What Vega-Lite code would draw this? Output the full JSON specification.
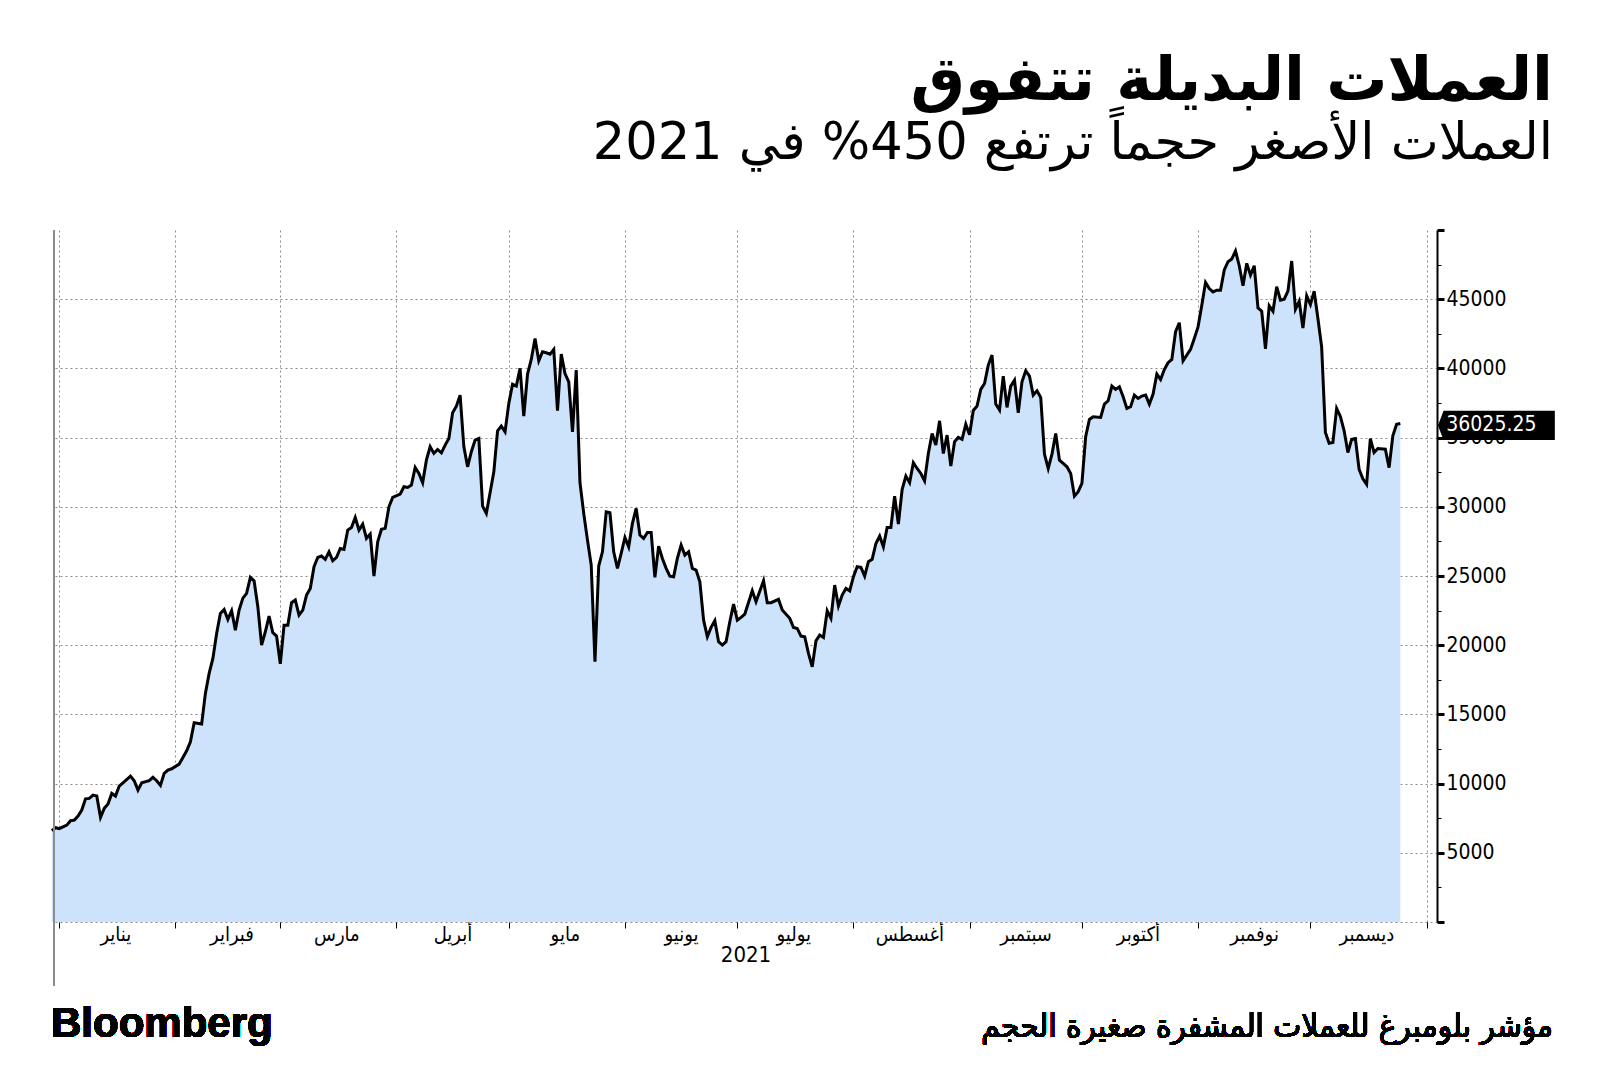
{
  "$schema": "https://vega.github.io/schema/vega-lite/v6.json",
  "width": 1383,
  "height": 692,
  "autosize": {"type": "none"},
  "padding": {"left": 54, "top": 230, "right": 163, "bottom": 152},
  "background": "white",
  "config": {"view": {"stroke": null}},
  "title": {
    "text": "العملات البديلة تتفوق",
    "subtitle": "‫العملات الأصغر حجماً ترتفع 450% في 2021‬",
    "anchor": "end",
    "frame": "group",
    "orient": "top",
    "dx": 116,
    "offset": 49,
    "font": "DejaVu Sans",
    "fontSize": 61,
    "fontWeight": "bold",
    "color": "black",
    "subtitleFont": "DejaVu Sans",
    "subtitleFontSize": 51,
    "subtitleColor": "black",
    "subtitlePadding": 6
  },
  "datasets": {
    "series": [
      {"date": "2020-12-30", "value": 6600},
      {"date": "2020-12-31", "value": 6810},
      {"date": "2021-01-01", "value": 6740},
      {"date": "2021-01-03", "value": 7000},
      {"date": "2021-01-04", "value": 7320},
      {"date": "2021-01-05", "value": 7360},
      {"date": "2021-01-06", "value": 7650},
      {"date": "2021-01-07", "value": 8090},
      {"date": "2021-01-08", "value": 8900},
      {"date": "2021-01-09", "value": 8930},
      {"date": "2021-01-10", "value": 9170},
      {"date": "2021-01-11", "value": 9100},
      {"date": "2021-01-12", "value": 7560},
      {"date": "2021-01-13", "value": 8210},
      {"date": "2021-01-14", "value": 8520},
      {"date": "2021-01-15", "value": 9290},
      {"date": "2021-01-16", "value": 9100},
      {"date": "2021-01-17", "value": 9820},
      {"date": "2021-01-18", "value": 10060},
      {"date": "2021-01-20", "value": 10540},
      {"date": "2021-01-21", "value": 10210},
      {"date": "2021-01-22", "value": 9530},
      {"date": "2021-01-23", "value": 10060},
      {"date": "2021-01-25", "value": 10210},
      {"date": "2021-01-26", "value": 10450},
      {"date": "2021-01-27", "value": 10210},
      {"date": "2021-01-28", "value": 9870},
      {"date": "2021-01-29", "value": 10740},
      {"date": "2021-01-30", "value": 10980},
      {"date": "2021-01-31", "value": 11070},
      {"date": "2021-02-02", "value": 11410},
      {"date": "2021-02-03", "value": 11890},
      {"date": "2021-02-04", "value": 12370},
      {"date": "2021-02-05", "value": 13020},
      {"date": "2021-02-06", "value": 14400},
      {"date": "2021-02-08", "value": 14300},
      {"date": "2021-02-09", "value": 16520},
      {"date": "2021-02-10", "value": 17960},
      {"date": "2021-02-11", "value": 19040},
      {"date": "2021-02-12", "value": 20850},
      {"date": "2021-02-13", "value": 22290},
      {"date": "2021-02-14", "value": 22580},
      {"date": "2021-02-15", "value": 21860},
      {"date": "2021-02-16", "value": 22490},
      {"date": "2021-02-17", "value": 21090},
      {"date": "2021-02-18", "value": 22540},
      {"date": "2021-02-19", "value": 23400},
      {"date": "2021-02-20", "value": 23740},
      {"date": "2021-02-21", "value": 24900},
      {"date": "2021-02-22", "value": 24650},
      {"date": "2021-02-23", "value": 22780},
      {"date": "2021-02-24", "value": 20010},
      {"date": "2021-02-25", "value": 20970},
      {"date": "2021-02-26", "value": 22100},
      {"date": "2021-02-27", "value": 20900},
      {"date": "2021-02-28", "value": 20660},
      {"date": "2021-03-01", "value": 18660},
      {"date": "2021-03-02", "value": 21450},
      {"date": "2021-03-03", "value": 21450},
      {"date": "2021-03-04", "value": 23070},
      {"date": "2021-03-05", "value": 23260},
      {"date": "2021-03-06", "value": 22180},
      {"date": "2021-03-07", "value": 22540},
      {"date": "2021-03-08", "value": 23620},
      {"date": "2021-03-09", "value": 24100},
      {"date": "2021-03-10", "value": 25670},
      {"date": "2021-03-11", "value": 26340},
      {"date": "2021-03-12", "value": 26440},
      {"date": "2021-03-13", "value": 26200},
      {"date": "2021-03-14", "value": 26750},
      {"date": "2021-03-15", "value": 26100},
      {"date": "2021-03-16", "value": 26340},
      {"date": "2021-03-17", "value": 26990},
      {"date": "2021-03-18", "value": 26920},
      {"date": "2021-03-19", "value": 28320},
      {"date": "2021-03-20", "value": 28510},
      {"date": "2021-03-21", "value": 29230},
      {"date": "2021-03-22", "value": 28320},
      {"date": "2021-03-23", "value": 28750},
      {"date": "2021-03-24", "value": 27720},
      {"date": "2021-03-25", "value": 28030},
      {"date": "2021-03-26", "value": 24990},
      {"date": "2021-03-27", "value": 27470},
      {"date": "2021-03-28", "value": 28370},
      {"date": "2021-03-29", "value": 28440},
      {"date": "2021-03-30", "value": 30000},
      {"date": "2021-03-31", "value": 30680},
      {"date": "2021-04-02", "value": 30920},
      {"date": "2021-04-03", "value": 31450},
      {"date": "2021-04-04", "value": 31400},
      {"date": "2021-04-05", "value": 31570},
      {"date": "2021-04-06", "value": 32840},
      {"date": "2021-04-07", "value": 32410},
      {"date": "2021-04-08", "value": 31740},
      {"date": "2021-04-09", "value": 33370},
      {"date": "2021-04-10", "value": 34340},
      {"date": "2021-04-11", "value": 33860},
      {"date": "2021-04-12", "value": 34140},
      {"date": "2021-04-13", "value": 33900},
      {"date": "2021-04-14", "value": 34460},
      {"date": "2021-04-15", "value": 34940},
      {"date": "2021-04-16", "value": 36790},
      {"date": "2021-04-17", "value": 37270},
      {"date": "2021-04-18", "value": 38070},
      {"date": "2021-04-19", "value": 34340},
      {"date": "2021-04-20", "value": 32890},
      {"date": "2021-04-21", "value": 33980},
      {"date": "2021-04-22", "value": 34820},
      {"date": "2021-04-23", "value": 34940},
      {"date": "2021-04-24", "value": 30050},
      {"date": "2021-04-25", "value": 29520},
      {"date": "2021-04-26", "value": 31010},
      {"date": "2021-04-27", "value": 32530},
      {"date": "2021-04-28", "value": 35490},
      {"date": "2021-04-29", "value": 35830},
      {"date": "2021-04-30", "value": 35420},
      {"date": "2021-05-01", "value": 37470},
      {"date": "2021-05-02", "value": 38860},
      {"date": "2021-05-03", "value": 38720},
      {"date": "2021-05-04", "value": 40000},
      {"date": "2021-05-05", "value": 36550},
      {"date": "2021-05-06", "value": 39590},
      {"date": "2021-05-07", "value": 40650},
      {"date": "2021-05-08", "value": 42160},
      {"date": "2021-05-09", "value": 40550},
      {"date": "2021-05-10", "value": 41200},
      {"date": "2021-05-11", "value": 41130},
      {"date": "2021-05-12", "value": 41030},
      {"date": "2021-05-13", "value": 41370},
      {"date": "2021-05-14", "value": 36940},
      {"date": "2021-05-15", "value": 41030},
      {"date": "2021-05-16", "value": 39630},
      {"date": "2021-05-17", "value": 39030},
      {"date": "2021-05-18", "value": 35420},
      {"date": "2021-05-19", "value": 39880},
      {"date": "2021-05-20", "value": 31740},
      {"date": "2021-05-21", "value": 29520},
      {"date": "2021-05-22", "value": 27590},
      {"date": "2021-05-23", "value": 25790},
      {"date": "2021-05-24", "value": 18810},
      {"date": "2021-05-25", "value": 25720},
      {"date": "2021-05-26", "value": 26750},
      {"date": "2021-05-27", "value": 29640},
      {"date": "2021-05-28", "value": 29570},
      {"date": "2021-05-29", "value": 26750},
      {"date": "2021-05-30", "value": 25550},
      {"date": "2021-05-31", "value": 26630},
      {"date": "2021-06-01", "value": 27790},
      {"date": "2021-06-02", "value": 27110},
      {"date": "2021-06-03", "value": 28800},
      {"date": "2021-06-04", "value": 29880},
      {"date": "2021-06-05", "value": 27960},
      {"date": "2021-06-06", "value": 27720},
      {"date": "2021-06-07", "value": 28150},
      {"date": "2021-06-08", "value": 28150},
      {"date": "2021-06-09", "value": 24900},
      {"date": "2021-06-10", "value": 27160},
      {"date": "2021-06-11", "value": 26270},
      {"date": "2021-06-12", "value": 25550},
      {"date": "2021-06-13", "value": 24990},
      {"date": "2021-06-14", "value": 24950},
      {"date": "2021-06-15", "value": 26270},
      {"date": "2021-06-16", "value": 27230},
      {"date": "2021-06-17", "value": 26510},
      {"date": "2021-06-18", "value": 26750},
      {"date": "2021-06-19", "value": 25550},
      {"date": "2021-06-20", "value": 25430},
      {"date": "2021-06-21", "value": 24580},
      {"date": "2021-06-22", "value": 21810},
      {"date": "2021-06-23", "value": 20610},
      {"date": "2021-06-24", "value": 21290},
      {"date": "2021-06-25", "value": 21770},
      {"date": "2021-06-26", "value": 20250},
      {"date": "2021-06-27", "value": 20010},
      {"date": "2021-06-28", "value": 20250},
      {"date": "2021-06-29", "value": 21690},
      {"date": "2021-06-30", "value": 22970},
      {"date": "2021-07-01", "value": 21810},
      {"date": "2021-07-02", "value": 22010},
      {"date": "2021-07-03", "value": 22250},
      {"date": "2021-07-05", "value": 23930},
      {"date": "2021-07-06", "value": 23140},
      {"date": "2021-07-08", "value": 24660},
      {"date": "2021-07-09", "value": 23070},
      {"date": "2021-07-10", "value": 23070},
      {"date": "2021-07-12", "value": 23310},
      {"date": "2021-07-13", "value": 22540},
      {"date": "2021-07-15", "value": 21940},
      {"date": "2021-07-16", "value": 21280},
      {"date": "2021-07-17", "value": 21210},
      {"date": "2021-07-18", "value": 20660},
      {"date": "2021-07-19", "value": 20610},
      {"date": "2021-07-20", "value": 19410},
      {"date": "2021-07-21", "value": 18440},
      {"date": "2021-07-22", "value": 20320},
      {"date": "2021-07-23", "value": 20730},
      {"date": "2021-07-24", "value": 20560},
      {"date": "2021-07-25", "value": 22490},
      {"date": "2021-07-26", "value": 21940},
      {"date": "2021-07-27", "value": 24340},
      {"date": "2021-07-28", "value": 22830},
      {"date": "2021-07-29", "value": 23620},
      {"date": "2021-07-30", "value": 24100},
      {"date": "2021-07-31", "value": 23930},
      {"date": "2021-08-01", "value": 24950},
      {"date": "2021-08-02", "value": 25670},
      {"date": "2021-08-03", "value": 25620},
      {"date": "2021-08-04", "value": 24990},
      {"date": "2021-08-05", "value": 26030},
      {"date": "2021-08-06", "value": 26200},
      {"date": "2021-08-07", "value": 27350},
      {"date": "2021-08-08", "value": 27880},
      {"date": "2021-08-09", "value": 27110},
      {"date": "2021-08-10", "value": 28510},
      {"date": "2021-08-11", "value": 28510},
      {"date": "2021-08-12", "value": 30770},
      {"date": "2021-08-13", "value": 28750},
      {"date": "2021-08-14", "value": 31250},
      {"date": "2021-08-15", "value": 32220},
      {"date": "2021-08-16", "value": 31740},
      {"date": "2021-08-17", "value": 33180},
      {"date": "2021-08-18", "value": 32770},
      {"date": "2021-08-19", "value": 32410},
      {"date": "2021-08-20", "value": 31880},
      {"date": "2021-08-21", "value": 33850},
      {"date": "2021-08-22", "value": 35300},
      {"date": "2021-08-23", "value": 34460},
      {"date": "2021-08-24", "value": 36210},
      {"date": "2021-08-25", "value": 33850},
      {"date": "2021-08-26", "value": 35180},
      {"date": "2021-08-27", "value": 32940},
      {"date": "2021-08-28", "value": 34700},
      {"date": "2021-08-29", "value": 35010},
      {"date": "2021-08-30", "value": 34870},
      {"date": "2021-08-31", "value": 35970},
      {"date": "2021-09-01", "value": 35200},
      {"date": "2021-09-02", "value": 36960},
      {"date": "2021-09-03", "value": 37280},
      {"date": "2021-09-04", "value": 38480},
      {"date": "2021-09-05", "value": 38910},
      {"date": "2021-09-06", "value": 40240},
      {"date": "2021-09-07", "value": 40960},
      {"date": "2021-09-08", "value": 37420},
      {"date": "2021-09-09", "value": 36990},
      {"date": "2021-09-10", "value": 39440},
      {"date": "2021-09-11", "value": 37180},
      {"date": "2021-09-12", "value": 38720},
      {"date": "2021-09-13", "value": 39150},
      {"date": "2021-09-14", "value": 36790},
      {"date": "2021-09-15", "value": 39030},
      {"date": "2021-09-16", "value": 39830},
      {"date": "2021-09-17", "value": 39440},
      {"date": "2021-09-18", "value": 38070},
      {"date": "2021-09-19", "value": 38380},
      {"date": "2021-09-20", "value": 37900},
      {"date": "2021-09-21", "value": 33810},
      {"date": "2021-09-22", "value": 32770},
      {"date": "2021-09-23", "value": 33810},
      {"date": "2021-09-24", "value": 35300},
      {"date": "2021-09-25", "value": 33370},
      {"date": "2021-09-26", "value": 33130},
      {"date": "2021-09-27", "value": 32890},
      {"date": "2021-09-28", "value": 32410},
      {"date": "2021-09-29", "value": 30770},
      {"date": "2021-09-30", "value": 31090},
      {"date": "2021-10-01", "value": 31690},
      {"date": "2021-10-02", "value": 35060},
      {"date": "2021-10-03", "value": 36310},
      {"date": "2021-10-04", "value": 36500},
      {"date": "2021-10-06", "value": 36460},
      {"date": "2021-10-07", "value": 37420},
      {"date": "2021-10-08", "value": 37660},
      {"date": "2021-10-09", "value": 38720},
      {"date": "2021-10-10", "value": 38480},
      {"date": "2021-10-11", "value": 38670},
      {"date": "2021-10-12", "value": 37950},
      {"date": "2021-10-13", "value": 37110},
      {"date": "2021-10-14", "value": 37230},
      {"date": "2021-10-15", "value": 38070},
      {"date": "2021-10-16", "value": 37830},
      {"date": "2021-10-17", "value": 38000},
      {"date": "2021-10-18", "value": 38070},
      {"date": "2021-10-19", "value": 37420},
      {"date": "2021-10-20", "value": 38140},
      {"date": "2021-10-21", "value": 39590},
      {"date": "2021-10-22", "value": 39200},
      {"date": "2021-10-23", "value": 39920},
      {"date": "2021-10-24", "value": 40410},
      {"date": "2021-10-25", "value": 40650},
      {"date": "2021-10-26", "value": 42650},
      {"date": "2021-10-27", "value": 43300},
      {"date": "2021-10-28", "value": 40550},
      {"date": "2021-10-30", "value": 41370},
      {"date": "2021-10-31", "value": 42160},
      {"date": "2021-11-01", "value": 43000},
      {"date": "2021-11-02", "value": 44560},
      {"date": "2021-11-03", "value": 46210},
      {"date": "2021-11-04", "value": 45770},
      {"date": "2021-11-05", "value": 45530},
      {"date": "2021-11-06", "value": 45650},
      {"date": "2021-11-07", "value": 45650},
      {"date": "2021-11-08", "value": 47110},
      {"date": "2021-11-09", "value": 47710},
      {"date": "2021-11-10", "value": 47900},
      {"date": "2021-11-11", "value": 48480},
      {"date": "2021-11-12", "value": 47420},
      {"date": "2021-11-13", "value": 45970},
      {"date": "2021-11-14", "value": 47590},
      {"date": "2021-11-15", "value": 46740},
      {"date": "2021-11-16", "value": 47420},
      {"date": "2021-11-17", "value": 44370},
      {"date": "2021-11-18", "value": 44130},
      {"date": "2021-11-19", "value": 41420},
      {"date": "2021-11-20", "value": 44520},
      {"date": "2021-11-21", "value": 44130},
      {"date": "2021-11-22", "value": 45900},
      {"date": "2021-11-23", "value": 44930},
      {"date": "2021-11-24", "value": 45000},
      {"date": "2021-11-25", "value": 45580},
      {"date": "2021-11-26", "value": 47760},
      {"date": "2021-11-27", "value": 44270},
      {"date": "2021-11-28", "value": 44850},
      {"date": "2021-11-29", "value": 42920},
      {"date": "2021-11-30", "value": 45240},
      {"date": "2021-12-01", "value": 44610},
      {"date": "2021-12-02", "value": 45580},
      {"date": "2021-12-03", "value": 43600},
      {"date": "2021-12-04", "value": 41540},
      {"date": "2021-12-05", "value": 35370},
      {"date": "2021-12-06", "value": 34590},
      {"date": "2021-12-07", "value": 34640},
      {"date": "2021-12-08", "value": 37110},
      {"date": "2021-12-09", "value": 36530},
      {"date": "2021-12-10", "value": 35490},
      {"date": "2021-12-11", "value": 33920},
      {"date": "2021-12-12", "value": 34880},
      {"date": "2021-12-13", "value": 34930},
      {"date": "2021-12-14", "value": 32700},
      {"date": "2021-12-15", "value": 32030},
      {"date": "2021-12-16", "value": 31620},
      {"date": "2021-12-17", "value": 34930},
      {"date": "2021-12-18", "value": 33920},
      {"date": "2021-12-19", "value": 34210},
      {"date": "2021-12-21", "value": 34160},
      {"date": "2021-12-22", "value": 32830},
      {"date": "2021-12-23", "value": 35130},
      {"date": "2021-12-24", "value": 35970},
      {"date": "2021-12-25", "value": 36025.25}
    ]
  },
  "data": {"name": "series"},
  "encoding": {
    "x": {
      "field": "date",
      "type": "temporal",
      "scale": {
        "type": "utc",
        "domain": [
          {"year": 2020, "month": 12, "date": 30, "hours": 14, "utc": true},
          {"year": 2022, "month": 1, "date": 3, "hours": 19, "utc": true}
        ]
      },
      "axis": {
        "orient": "bottom",
        "title": "2021",
        "titleFont": "Liberation Sans Narrow, DejaVu Sans Condensed",
        "titleFontSize": 22,
        "titleFontWeight": "normal",
        "titleColor": "black",
        "titlePadding": 0,
        "tickCount": {"interval": "month", "step": 1},
        "grid": true,
        "gridColor": "#8a8a8a",
        "gridDash": [2, 3],
        "gridWidth": 1,
        "domain": false,
        "ticks": true,
        "tickColor": "black",
        "tickSize": 6,
        "tickWidth": 1,
        "labelExpr": "utcyear(datum.value) > 2021 ? '' : ['يناير','فبراير','مارس','أبريل','مايو','يونيو','يوليو','أغسطس','سبتمبر','أكتوبر','نوفمبر','ديسمبر'][utcmonth(datum.value)]",
        "labelOffset": 56,
        "labelAlign": "center",
        "labelFlush": false,
        "labelOverlap": false,
        "labelBound": false,
        "labelFont": "DejaVu Sans Condensed, DejaVu Sans",
        "labelFontSize": 20,
        "labelColor": "black",
        "labelPadding": -4
      }
    },
    "y": {
      "field": "value",
      "type": "quantitative",
      "scale": {"domain": [0, 50000], "nice": false, "zero": true},
      "axis": {
        "orient": "right",
        "title": null,
        "values": [0, 2500, 5000, 7500, 10000, 12500, 15000, 17500, 20000, 22500, 25000, 27500, 30000, 32500, 35000, 37500, 40000, 42500, 45000, 47500, 50000],
        "format": "d",
        "labelExpr": "datum.value % 5000 == 0 && datum.value > 0 && datum.value < 50000 ? datum.label : ''",
        "labelFont": "Liberation Sans Narrow, DejaVu Sans Condensed",
        "labelFontSize": 21,
        "labelColor": "black",
        "labelPadding": 2,
        "labelBaseline": "middle",
        "labelOverlap": false,
        "labelFlush": false,
        "domain": true,
        "domainColor": "black",
        "domainWidth": 2,
        "ticks": true,
        "tickColor": "black",
        "tickSize": {"condition": {"test": "datum.value % 5000 != 0", "value": 4}, "value": 7},
        "tickWidth": {"condition": {"test": "datum.value % 5000 != 0", "value": 1}, "value": 3},
        "grid": true,
        "gridColor": "#8a8a8a",
        "gridDash": [2, 3],
        "gridWidth": 1,
        "gridOpacity": {"condition": {"test": "datum.value % 5000 != 0 || datum.value >= 50000", "value": 0}, "value": 1}
      }
    }
  },
  "layer": [
    {"mark": {"type": "area", "color": "#cce3fb", "opacity": 1}},
    {"mark": {"type": "line", "color": "black", "strokeWidth": 3}},
    {
      "mark": {"type": "rule", "color": "#8c8c8c", "strokeWidth": 1.5},
      "encoding": {
        "x": {"datum": {"year": 2020, "month": 12, "date": 30, "hours": 14, "utc": true}, "type": "temporal"},
        "y": {"datum": 50000, "type": "quantitative"},
        "y2": {"datum": -4600}
      }
    },
    {
      "transform": [{"filter": "datum.value == 36025.25"}],
      "mark": {
        "type": "point",
        "shape": "M2.57,0.14 L2.95,-0.86 L10.55,-0.86 L10.55,1.14 L2.95,1.14 Z",
        "size": 858,
        "filled": true,
        "color": "black",
        "opacity": 1,
        "strokeWidth": 0
      }
    },
    {
      "transform": [{"filter": "datum.value == 36025.25"}],
      "mark": {
        "type": "text",
        "color": "white",
        "font": "Liberation Sans Narrow, DejaVu Sans Condensed",
        "fontSize": 21,
        "align": "left",
        "baseline": "middle",
        "dx": 46,
        "dy": 2
      },
      "encoding": {"text": {"field": "value", "type": "quantitative", "format": ".2f"}}
    },
    {
      "mark": {
        "type": "text",
        "text": "Bloomberg",
        "font": "Liberation Sans",
        "fontWeight": "bold",
        "fontSize": 42,
        "align": "left",
        "baseline": "alphabetic",
        "color": "black",
        "dx": -3
      },
      "encoding": {
        "x": {"datum": {"year": 2020, "month": 12, "date": 30, "hours": 14, "utc": true}, "type": "temporal"},
        "y": {"datum": -8300, "type": "quantitative"}
      }
    },
    {
      "mark": {
        "type": "text",
        "text": "مؤشر بلومبرغ للعملات المشفرة صغيرة الحجم",
        "font": "DejaVu Sans Condensed, DejaVu Sans",
        "fontSize": 33,
        "align": "right",
        "baseline": "alphabetic",
        "color": "black",
        "dx": 116
      },
      "encoding": {
        "x": {"datum": {"year": 2022, "month": 1, "date": 3, "hours": 19, "utc": true}, "type": "temporal"},
        "y": {"datum": -8300, "type": "quantitative"}
      }
    }
  ]
}
